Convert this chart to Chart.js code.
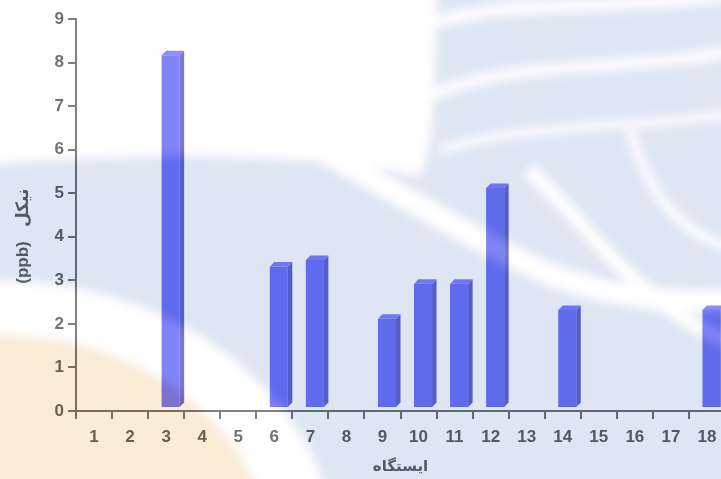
<!DOCTYPE html>
<html><head><meta charset="utf-8">
<script src="https://cdn.jsdelivr.net/npm/chart.js@4/dist/chart.umd.min.js"></script>
<style>
html,body{margin:0;padding:0;background:#fff;overflow:hidden;width:721px;height:479px}
#wrap{position:relative;width:721px;height:479px;overflow:hidden}
canvas{position:absolute;left:0;top:0}
svg{position:absolute;left:0;top:0;pointer-events:none}
</style></head><body>
<div id="wrap">
<canvas id="c" width="726" height="479"></canvas>
<svg width="721" height="479" viewBox="0 0 721 479">
 <defs><filter id="bl" x="-10%" y="-10%" width="120%" height="120%"><feGaussianBlur stdDeviation="5"/></filter></defs>
 <g opacity="0.23" filter="url(#bl)">
  <rect x="-60" y="-60" width="850" height="600" fill="#ffffff"/>
  <path d="M-60,168 C120,150 300,150 420,175 C440,120 430,40 440,-60 L800,-60 L800,560 L-60,560 Z" fill="#7392cf"/>
  <path d="M425,25 C520,-5 620,15 760,-10" stroke="#fff" stroke-width="10" fill="none"/>
  <path d="M430,95 C530,55 640,75 760,45" stroke="#fff" stroke-width="9" fill="none"/>
  <path d="M440,150 C540,120 640,130 760,110" stroke="#fff" stroke-width="6" fill="none"/>
  <path d="M320,150 C420,205 500,255 560,278 C620,298 690,305 760,300" stroke="#fff" stroke-width="20" fill="none"/>
  <path d="M530,170 C600,240 660,330 760,350" stroke="#fff" stroke-width="12" fill="none"/>
  <path d="M630,130 C650,200 690,250 760,250" stroke="#fff" stroke-width="7" fill="none"/>
  <ellipse cx="0" cy="560" rx="335" ry="278" fill="#ffffff"/>
  <ellipse cx="0" cy="560" rx="272" ry="226" fill="#e9ac51"/>
 </g>
</svg>
</div>
<script>
const stations = ['1','2','3','4','5','6','7','8','9','10','11','12','13','14','15','16','17','18'];
const nickel = [null,null,8.1,null,null,3.25,3.4,null,2.05,2.85,2.85,5.05,null,2.25,null,null,null,2.25];
const yMin = 0, yMax = 9, yStep = 1;
const yTitle = '(ppb)   نیکل' + '\u00A0'.repeat(9);
const xTitle = 'ایستگاه';

const textColor = '#484848';
const axisColor = '#5c5c5c';
const frontColor = '#5a5ff5';
const sideColor = '#4c4fc4';
const topColor = '#6d71f8';

Chart.defaults.font.family = "Arial, 'Liberation Sans', 'DejaVu Sans', sans-serif";

const bar3d = {
  id: 'bar3d',
  beforeDatasetsDraw(chart) {
    chart.ctx.save();
    chart.ctx.translate(4.5, -3);
  },
  afterDatasetsDraw(chart) {
    const ctx = chart.ctx;
    const meta = chart.getDatasetMeta(0);
    const d = 4.5;
    meta.data.forEach((el, i) => {
      if (nickel[i] == null) return;
      const p = el.getProps(['x', 'y', 'base', 'width'], true);
      const l = p.x - p.width / 2, r = p.x + p.width / 2;
      ctx.fillStyle = sideColor;
      ctx.beginPath();
      ctx.moveTo(r, p.y); ctx.lineTo(r + d, p.y - d); ctx.lineTo(r + d, p.base - d); ctx.lineTo(r, p.base);
      ctx.closePath(); ctx.fill();
      ctx.fillStyle = topColor;
      ctx.beginPath();
      ctx.moveTo(l, p.y); ctx.lineTo(l + d, p.y - d); ctx.lineTo(r + d, p.y - d); ctx.lineTo(r, p.y);
      ctx.closePath(); ctx.fill();
    });
    ctx.restore();
  }
};

new Chart(document.getElementById('c'), {
  type: 'bar',
  data: {
    labels: stations,
    datasets: [{
      data: nickel,
      backgroundColor: frontColor,
      borderWidth: 0,
      barPercentage: 0.5,
      categoryPercentage: 1.0,
      clip: false
    }]
  },
  options: {
    responsive: false,
    animation: false,
    devicePixelRatio: 1,
    layout: { padding: { top: 19, right: 1, left: 0, bottom: 0 } },
    plugins: { legend: { display: false }, tooltip: { enabled: false } },
    scales: {
      x: {
        grid: { drawOnChartArea: false, tickLength: 8, color: axisColor, lineWidth: 2, offset: true },
        border: { color: axisColor, width: 2 },
        ticks: { color: textColor, font: { size: 17, weight: 'bold' }, padding: 8, maxRotation: 0, autoSkip: false },
        title: { display: true, text: xTitle, color: textColor, font: { size: 15, weight: 'bold' }, padding: { top: 0, bottom: 3 } },
        afterFit(s) { s.height = 68; }
      },
      y: {
        min: yMin, max: yMax,
        grid: { drawOnChartArea: false, tickLength: 8, color: axisColor, lineWidth: 2 },
        border: { color: axisColor, width: 2 },
        ticks: { stepSize: yStep, color: textColor, font: { size: 17, weight: 'bold' }, padding: 4 },
        title: { display: true, text: yTitle, color: textColor, font: { size: 17, weight: 'bold' }, padding: { top: 13, bottom: 0 } },
        afterFit(s) { s.width = 76; }
      }
    }
  },
  plugins: [bar3d]
});
</script>
</body></html>
